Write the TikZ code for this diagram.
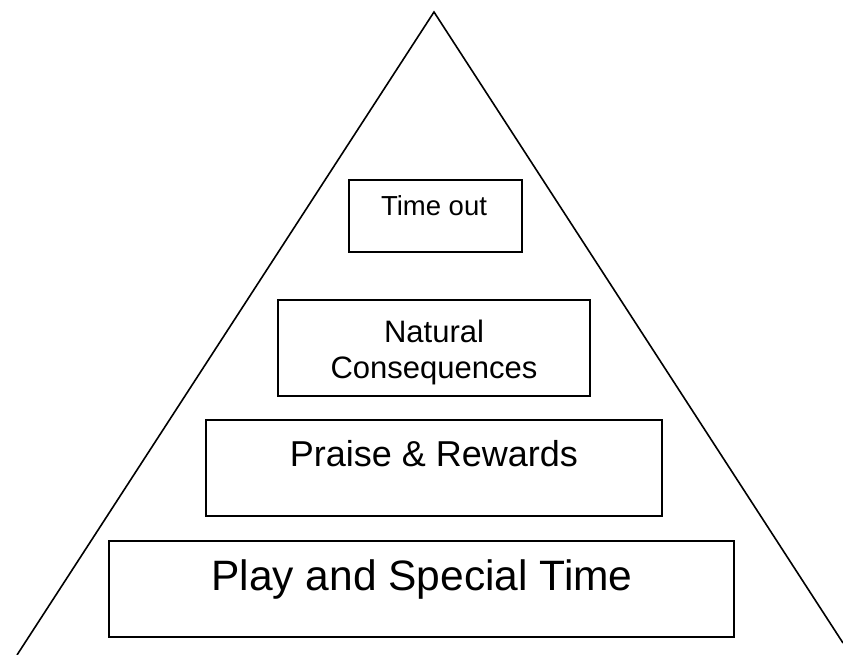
\documentclass[tikz,border=0pt]{standalone}
\usepackage{fontspec}
\setmainfont{Liberation Sans}
\begin{document}
\begin{tikzpicture}[x=1pt,y=-1pt,
  tier/.style={draw=black,line width=1.6pt,rectangle,inner sep=0pt},
  lbl/.style={anchor=base,inner sep=0pt,text=black}]
\useasboundingbox (0,0) rectangle (843,655);
\fill[white] (0,0) rectangle (843,655);
% pyramid outline
\coordinate (apex) at (434,12);
\coordinate (bl) at (17,655);
\coordinate (br) at (843,643);
\draw[line width=1.6pt,line join=miter] (bl) -- (apex) -- (br);
% boxes
\node[tier,minimum width=173pt,minimum height=72pt] (timeout) at (435.5,216) {};
\node[tier,minimum width=312pt,minimum height=96pt] (natural) at (434,348) {};
\node[tier,minimum width=456pt,minimum height=96pt] (praise) at (434,468) {};
\node[tier,minimum width=625pt,minimum height=96pt] (play) at (421.5,589) {};
% labels
\node[lbl,font=\fontsize{27.5}{32}\selectfont] (t1) at (434,215) {Time out};
\node[lbl,font=\fontsize{31}{36}\selectfont] (n1) at (434,342) {Natural};
\node[lbl,font=\fontsize{31}{36}\selectfont] (n2) at (434,378) {Consequences};
\node[lbl,font=\fontsize{36}{42}\selectfont] (p1) at (434,466) {Praise \& Rewards};
\node[lbl,font=\fontsize{42.5}{48}\selectfont] (s1) at (422,590) {Play and Special Time};
\end{tikzpicture}
\end{document}
